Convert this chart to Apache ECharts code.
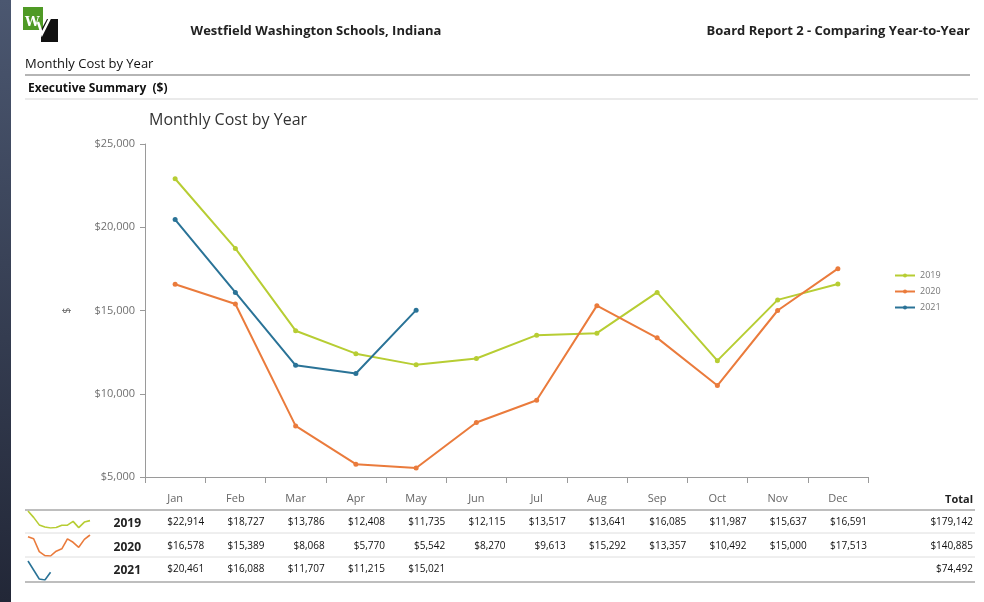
<!DOCTYPE html>
<html>
<head>
<meta charset="UTF-8">
<title>Monthly Cost by Year</title>
<script src="https://cdn.jsdelivr.net/npm/echarts@6/dist/echarts.min.js"></script>
<style>
  html, body { margin: 0; padding: 0; background: #fff; }
  #main { width: 984px; height: 602px; }
</style>
</head>
<body>
<div id="main"></div>
<script>
// data
var months = ['Jan', 'Feb', 'Mar', 'Apr', 'May', 'Jun', 'Jul', 'Aug', 'Sep', 'Oct', 'Nov', 'Dec'];
var years = ['2019', '2020', '2021'];
var cost2019 = [22914, 18727, 13786, 12408, 11735, 12115, 13517, 13641, 16085, 11987, 15637, 16591];
var cost2020 = [16578, 15389, 8068, 5770, 5542, 8270, 9613, 15292, 13357, 10492, 15000, 17513];
var cost2021 = [20461, 16088, 11707, 11215, 15021];
var totals = [179142, 140885, 74492];
var yTicks = [5000, 10000, 15000, 20000, 25000];

var colors = ['#b7cd33', '#ea7b3c', '#2a7397'];
var FONT = '"Open Sans", "Noto Sans", sans-serif';
var rows = [cost2019, cost2020, cost2021];

function money(v) {
  return '$' + v.toLocaleString('en-US');
}

var chart = echarts.init(document.getElementById('main'), null, { renderer: 'canvas' });

// one small grid per table row for the sparklines
var sparkGrids = [
  { left: 28, top: 511, width: 62, height: 17 },
  { left: 28, top: 535, width: 62, height: 21 },
  { left: 28, top: 561, width: 62, height: 19 }
];

var grids = [{ left: 145, top: 144, width: 723, height: 333 }].concat(sparkGrids);
var xAxes = [{
  type: 'category',
  data: months,
  gridIndex: 0,
  boundaryGap: true,
  axisLine: { lineStyle: { color: '#9a9a9a', width: 1 } },
  axisTick: { show: true, length: 6, lineStyle: { color: '#9a9a9a' } },
  axisLabel: { color: '#666', fontSize: 11, fontFamily: FONT, margin: 16 }
}];
var yAxes = [{
  type: 'value',
  gridIndex: 0,
  min: yTicks[0],
  max: yTicks[yTicks.length - 1],
  interval: 5000,
  name: '$',
  nameLocation: 'middle',
  nameGap: 73,
  nameTextStyle: { color: '#666', fontSize: 11, fontFamily: FONT },
  axisLine: { show: true, lineStyle: { color: '#9a9a9a' } },
  axisTick: { show: true, length: 5, lineStyle: { color: '#9a9a9a' } },
  splitLine: { show: false },
  axisLabel: { color: '#707070', fontSize: 11, fontFamily: FONT, margin: 10, formatter: function (v) { return money(v); } }
}];
sparkGrids.forEach(function (g, i) {
  xAxes.push({ type: 'category', data: months, gridIndex: i + 1, boundaryGap: false, show: false });
  yAxes.push({ type: 'value', gridIndex: i + 1, scale: true, min: 'dataMin', max: 'dataMax', show: false, splitLine: { show: false } });
});

var series = [];
years.forEach(function (y, i) {
  series.push({
    name: y,
    type: 'line',
    xAxisIndex: 0,
    yAxisIndex: 0,
    data: rows[i],
    symbol: 'circle',
    symbolSize: 5,
    lineStyle: { width: 2, color: colors[i] },
    itemStyle: { color: colors[i] }
  });
});
years.forEach(function (y, i) {
  series.push({
    type: 'line',
    xAxisIndex: i + 1,
    yAxisIndex: i + 1,
    data: rows[i],
    showSymbol: false,
    silent: true,
    lineStyle: { width: 1.6, color: colors[i] }
  });
});

chart.setOption({
  animation: false,
  textStyle: { fontFamily: FONT },
  title: {
    text: 'Monthly Cost by Year',
    left: 144,
    top: 107,
    textStyle: { fontSize: 16, fontWeight: 'normal', color: '#333', fontFamily: FONT }
  },
  legend: {
    data: years,
    orient: 'vertical',
    left: 889,
    top: 266,
    itemWidth: 20,
    itemHeight: 5,
    itemGap: 7,
    textStyle: { color: '#777', fontSize: 9, fontFamily: FONT }
  },
  grid: grids,
  xAxis: xAxes,
  yAxis: yAxes,
  series: series
});

// page furniture + table, columns placed from the category axis
var g = [];
g.push({
  type: 'rect', shape: { x: 0, y: 0, width: 11, height: 602 },
  style: { fill: new echarts.graphic.LinearGradient(0, 0, 0, 1, [
    { offset: 0, color: '#4b5770' }, { offset: 1, color: '#222737' }]) }
});
// logo
g.push({ type: 'rect', shape: { x: 23, y: 7, width: 20, height: 23 }, style: { fill: '#4f9a25' } });
g.push({ type: 'polygon', shape: { points: [[47, 19], [58, 19], [58, 42], [41, 42], [41, 30]] }, style: { fill: '#111' } });
g.push({ type: 'text', x: 25, y: 16, style: { text: 'W', fontSize: 13, fontWeight: 'bold', fill: '#fff', fontFamily: 'DejaVu Serif' } });
g.push({ type: 'polyline', shape: { points: [[38, 22], [42, 34], [50, 18]] }, style: { stroke: '#fff', lineWidth: 2.5, fill: null } });

function txt(x, y, s, opt) {
  g.push({
    type: 'text', x: x, y: y,
    style: Object.assign({ text: s, fontFamily: FONT, fontSize: 12, fill: '#222', textVerticalAlign: 'middle', textAlign: 'left' }, opt || {})
  });
}
function hline(x1, x2, y, color, w) {
  g.push({ type: 'line', shape: { x1: x1, y1: y, x2: x2, y2: y }, style: { stroke: color, lineWidth: w } });
}

txt(316, 31, 'Westfield Washington Schools, Indiana', { fontWeight: 'bold', fontSize: 13, textAlign: 'center' });
txt(970, 31, 'Board Report 2 - Comparing Year-to-Year', { fontWeight: 'bold', fontSize: 13, textAlign: 'right' });
txt(25, 64, 'Monthly Cost by Year', { fontSize: 13, fill: '#111' });
hline(25, 970, 75, '#9c9c9c', 1.5);
txt(28, 89, 'Executive Summary  ($)', { fontSize: 12, fontWeight: 'bold', fill: '#111' });
hline(25, 978, 99, '#d6d6d6', 1.2);

// table
txt(973, 500, 'Total', { fontWeight: 'bold', fontSize: 11, textAlign: 'right' });
hline(25, 975, 510, '#a8a8a8', 1.5);
hline(25, 975, 533, '#dedede', 1);
hline(25, 975, 557, '#dedede', 1);
hline(25, 975, 582, '#a8a8a8', 1.5);

var rowY = [522, 546, 569];
var c0 = chart.convertToPixel({ xAxisIndex: 0 }, 0);
var c1 = chart.convertToPixel({ xAxisIndex: 0 }, 1);
var band = c1 - c0;
years.forEach(function (y, r) {
  txt(141, rowY[r] + 2, y, { fontWeight: 'bold', fontSize: 12, textAlign: 'right' });
  rows[r].forEach(function (v, i) {
    var cx = chart.convertToPixel({ xAxisIndex: 0 }, i);
    txt(cx + band / 2 - 1, rowY[r], money(v), { fontSize: 10, textAlign: 'right', fill: '#111' });
  });
  txt(973, rowY[r], money(totals[r]), { fontSize: 10, textAlign: 'right', fill: '#111' });
});

chart.setOption({ graphic: g });
</script>
</body>
</html>
